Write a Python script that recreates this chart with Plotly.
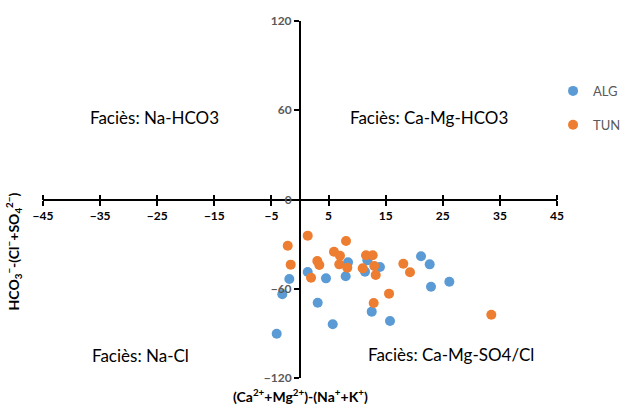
import plotly.graph_objects as go

# Data
alg_x = [1.35, -1.87, -3.1, 4.55, 8.41, 8.0, 11.38, 11.79, 14.0, 21.19, 22.71, 22.94, 26.15, 3.1, 12.56, 5.73, 15.76, -4.08]
alg_y = [-48.7, -53.4, -63.7, -53.0, -42.2, -51.6, -48.5, -40.9, -45.4, -38.2, -43.6, -58.6, -55.3, -69.4, -75.4, -83.9, -81.7, -90.2]

tun_x = [1.35, -2.15, -1.63, 1.93, 8.06, 5.95, 7.0, 3.03, 3.38, 6.88, 8.28, 11.56, 12.73, 10.98, 13.0, 13.26, 18.09, 19.26, 15.59, 12.9, 33.5]
tun_y = [-24.3, -31.1, -43.8, -52.6, -27.9, -35.1, -37.8, -41.3, -44.0, -43.6, -45.8, -37.5, -37.5, -46.3, -44.7, -50.8, -43.2, -48.9, -63.3, -69.6, -77.5]

x_ticks = [-45, -35, -25, -15, -5, 5, 15, 25, 35, 45]
y_ticks = [-120, -60, 0, 60, 120]

facies_labels = ["Faciès: Na-HCO3", "Faciès: Ca-Mg-HCO3", "Faciès: Na-Cl", "Faciès: Ca-Mg-SO4/Cl"]
facies_x = [-25.4, 22.6, -28.0, 26.4]
facies_y = [54.8, 54.8, -105.2, -103.9]

BLUE = "#5B9BD5"
ORANGE = "#ED7D31"
FONT = "Lato"

fig = go.Figure()
# helper trace so the upper half of the crossing ticks (overlay axis) is drawn
fig.add_trace(go.Scatter(x=[0], y=[0], xaxis="x2", mode="markers",
                         marker=dict(opacity=0), showlegend=False, hoverinfo="skip"))
fig.add_trace(go.Scatter(x=alg_x, y=alg_y, mode="markers", name="ALG",
                         legendgroup="a",
                         marker=dict(color=BLUE, size=10)))
fig.add_trace(go.Scatter(x=tun_x, y=tun_y, mode="markers", name="TUN",
                         legendgroup="b",
                         marker=dict(color=ORANGE, size=10)))

for t, xx, yy in zip(facies_labels, facies_x, facies_y):
    fig.add_annotation(x=xx, y=yy, xref="x", yref="y", text=t, showarrow=False,
                       font=dict(family=FONT, size=17, color="#000000"))

fig.add_annotation(x=0.5, y=-0.05, xref="paper", yref="paper",
                   text="(Ca<sup>2+</sup>+Mg<sup>2+</sup>)-(Na<sup>+</sup>+K<sup>+</sup>)",
                   showarrow=False, xanchor="center", yanchor="middle",
                   font=dict(family=FONT, size=14, color="#000000", weight="bold"))
fig.add_annotation(x=-0.058, y=0.355, xref="paper", yref="paper",
                   text="HCO<sub>3</sub><sup>−</sup>-(Cl<sup>−</sup>+SO<sub>4</sub><sup>2−</sup>)",
                   showarrow=False, textangle=-90, xanchor="center", yanchor="middle",
                   font=dict(family=FONT, size=14, color="#000000", weight="bold"))

fig.update_layout(
    width=620, height=405,
    margin=dict(l=43, r=63, t=21, b=27, autoexpand=False),
    paper_bgcolor="white", plot_bgcolor="white",
    font=dict(family=FONT),
    xaxis=dict(range=[-45, 45], tickvals=x_ticks, ticks="outside", ticklen=5, tickwidth=2,
               tickcolor="black", showline=True, linewidth=2, linecolor="black",
               anchor="free", position=0.5, showgrid=False, zeroline=False,
               tickfont=dict(family=FONT, size=12, color="#000000", weight="bold")),
    xaxis2=dict(range=[-45, 45], overlaying="x", tickvals=x_ticks, ticks="outside", ticklen=5,
                tickwidth=2, tickcolor="black", showline=False, showticklabels=False,
                anchor="free", position=0.5, showgrid=False, zeroline=False, side="top"),
    yaxis=dict(range=[-120, 120], tickvals=y_ticks, ticks="outside", ticklen=5, tickwidth=2,
               tickcolor="black", showline=True, linewidth=2, linecolor="black",
               anchor="free", position=0.5, showgrid=False, zeroline=False,
               tickfont=dict(family=FONT, size=12, color="#595959", weight="bold")),
    legend=dict(xref="container", yref="container", x=0.892, y=0.8125,
                xanchor="left", yanchor="top",
                traceorder="grouped", tracegroupgap=14,
                font=dict(family=FONT, size=13, color="#595959"),
                itemwidth=30, bgcolor="rgba(0,0,0,0)"),
    showlegend=True,
)

fig.write_html("out.html")
